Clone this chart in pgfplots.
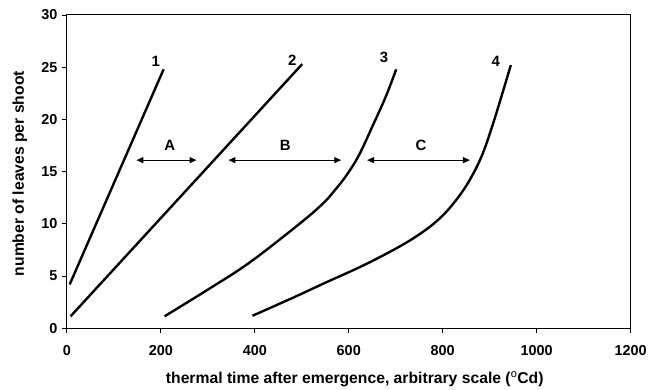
\documentclass[border=0pt]{standalone}
\usepackage{pgfplots}
\pgfplotsset{compat=1.18}
\usepackage{fontspec}
\setmainfont{Liberation Sans}
\usetikzlibrary{arrows.meta}
\newcommand\tickfont{\fontsize{14.5}{16}\selectfont\bfseries}
\newcommand\xlabfont{\fontsize{15.8}{18}\selectfont\bfseries}
\newcommand\ylabfont{\fontsize{15.8}{18}\selectfont\bfseries}
\newcommand\annfont{\fontsize{15}{17}\selectfont\bfseries}
\begin{document}
\begin{tikzpicture}
\begin{axis}[
  scale only axis,
  width=565bp, height=314bp,
  xmin=0, xmax=1200, ymin=0, ymax=30,
  xtick={0,200,...,1200}, ytick={0,5,...,30},
  tick align=outside, tick pos=left,
  major tick length=5bp,
  axis line style={line width=1pt},
  tick style={line width=0.8pt, black},
  /pgf/number format/assume math mode=true,
  /pgf/number format/1000 sep={},
  xticklabel={\tickfont\pgfmathprintnumber{\tick}},
  yticklabel={\tickfont\pgfmathprintnumber{\tick}},
  xticklabel style={anchor=base, yshift=-22bp},
  yticklabel style={anchor=east, xshift=-1bp},
  clip=false,
]
\addplot[line width=2.4pt, black] coordinates {(6,4.2) (206,24.8)};
\addplot[line width=2.4pt, black] coordinates {(8,1.15) (501,25.3)};
\addplot[line width=2.4pt, black, smooth, tension=0.6] coordinates {(208,1.15) (300,3.7) (389,6.3) (495,10.0) (544,11.9) (570,13.2) (596,14.7) (622,16.6) (650,19.3) (679,22.2) (701,24.8)};
\addplot[line width=2.4pt, black, smooth, tension=0.6] coordinates {(395,1.2) (480,2.9) (552,4.4) (630,6.0) (707,7.8) (760,9.3) (800,10.8) (834,12.6) (860,14.4) (884,16.6) (905,19.3) (925,22.2) (945,25.2)};
\addplot[line width=1.1pt, {Triangle[length=7bp,width=6bp]}-{Triangle[length=7bp,width=6bp]}] coordinates {(148,16.1) (276,16.1)};
\addplot[line width=1.1pt, {Triangle[length=7bp,width=6bp]}-{Triangle[length=7bp,width=6bp]}] coordinates {(344,16.1) (584,16.1)};
\addplot[line width=1.1pt, {Triangle[length=7bp,width=6bp]}-{Triangle[length=7bp,width=6bp]}] coordinates {(639,16.1) (858,16.1)};
\node at (axis cs:219,17.5) {\annfont A};
\node at (axis cs:465,17.5) {\annfont B};
\node at (axis cs:754,17.5) {\annfont C};
\node at (axis cs:189,25.6) {\annfont 1};
\node at (axis cs:480,25.7) {\annfont 2};
\node at (axis cs:675,25.9) {\annfont 3};
\node at (axis cs:913,25.6) {\annfont 4};
\node[anchor=base] at ([xshift=6bp,yshift=-55bp]rel axis cs:0.5,0) {\xlabfont thermal time after emergence, arbitrary scale ($^{\mathrm{o}}$Cd)};
\node[anchor=base, rotate=90] at ([xshift=-43bp,yshift=-2bp]rel axis cs:0,0.5) {\ylabfont number of leaves per shoot};
\end{axis}
\path (current axis.south west) ++(-67bp,-58bp) (current axis.north east) ++(18bp,15bp);
\end{tikzpicture}
\end{document}
